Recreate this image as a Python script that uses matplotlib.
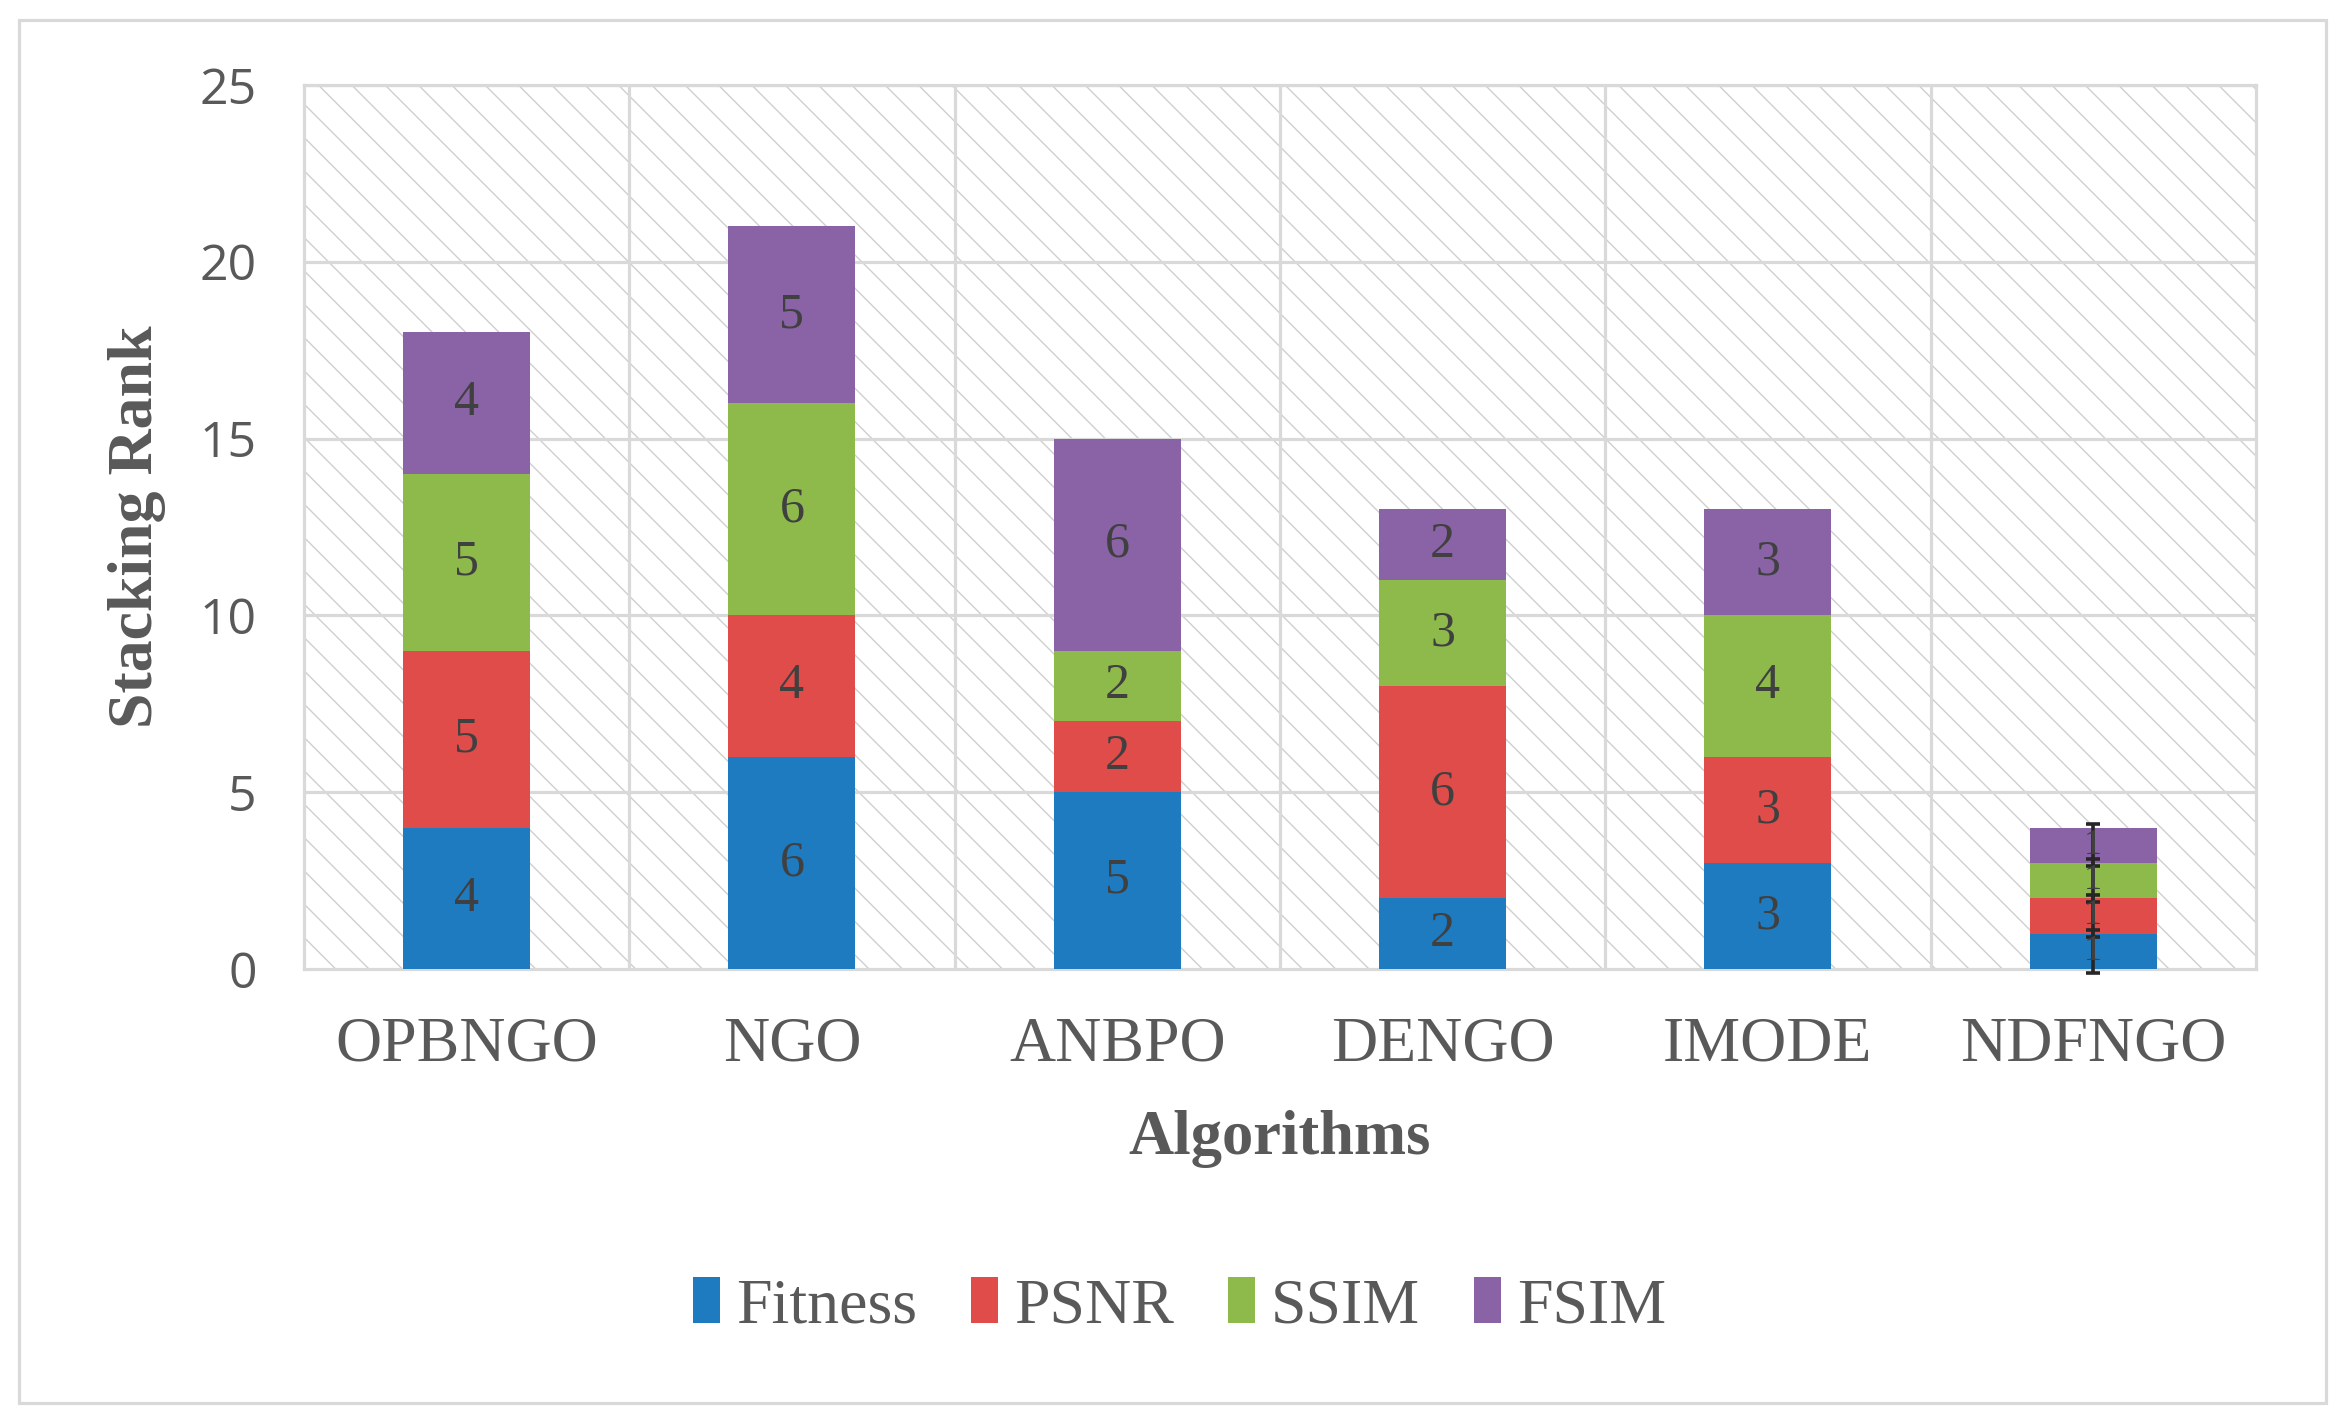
import matplotlib
matplotlib.use('Agg')
import numpy as np
import matplotlib.pyplot as plt
from matplotlib.patches import Rectangle

algorithms = ['OPBNGO', 'NGO', 'ANBPO', 'DENGO', 'IMODE', 'NDFNGO']
fitness = [4, 6, 5, 2, 3, 1]
psnr = [5, 4, 2, 6, 3, 1]
ssim = [5, 6, 2, 3, 4, 1]
fsim = [4, 5, 6, 2, 3, 1]
series_names = ['Fitness', 'PSNR', 'SSIM', 'FSIM']
series_colors = ['#1F7BC0', '#DF4C49', '#8DBA4A', '#8A62A6']

plt.rcParams['hatch.color'] = '#CFCFCF'
plt.rcParams['hatch.linewidth'] = 1.0

serif = 'Liberation Serif'
sans = 'Open Sans'
grey = '#595959'
gridc = '#D9D9D9'

fig = plt.figure(figsize=(23.45, 14.25), dpi=100)
ax = fig.add_axes([0.1296, 0.32, 0.8324, 0.6204])

# hatched background
bg = Rectangle((0, 0), 1, 1, transform=ax.transAxes, facecolor='white',
               edgecolor='#CFCFCF', hatch='\\', linewidth=0, zorder=0)
ax.add_patch(bg)

x = np.arange(len(algorithms))
width = 0.39
bottom = np.zeros(len(algorithms))
for name, vals, col in zip(series_names, [fitness, psnr, ssim, fsim], series_colors):
    vals = np.array(vals, dtype=float)
    ax.bar(x, vals, width, bottom=bottom, color=col, label=name, zorder=3)
    for xi, b, v in zip(x, bottom, vals):
        # small segments get a smaller label so the stack stays readable
        fs = 36 if v > 1 else 26
        ax.text(xi, b + v / 2, '%d' % v, ha='center', va='center',
                fontsize=fs, family=serif, color='#404040', zorder=7)
    bottom += vals

# error bars on the last stack
last = len(algorithms) - 1
seg_vals = [fitness[last], psnr[last], ssim[last], fsim[last]]
centers = np.cumsum(seg_vals) - np.array(seg_vals) / 2.0
ax.errorbar([x[last]] * len(centers), centers, yerr=0.6, fmt='none',
            ecolor='#262626', elinewidth=2.6, capsize=5, capthick=2.6, zorder=6,
            clip_on=False)

ax.set_xlim(-0.5, len(algorithms) - 0.5)
ax.set_ylim(0, 25)
ax.set_yticks(range(0, 26, 5))
for yv in range(5, 26, 5):
    ax.axhline(yv, color=gridc, lw=2.3, zorder=1)
for xv in np.arange(0.5, len(algorithms) - 0.5, 1):
    ax.axvline(xv, color=gridc, lw=2.3, zorder=1)
for s in ax.spines.values():
    s.set_color(gridc)
    s.set_linewidth(2.3)

ax.set_xticks(x)
ax.set_xticklabels(algorithms, family=serif, fontsize=46, color=grey)
ax.tick_params(axis='x', length=0, pad=34)
ax.tick_params(axis='y', length=0, pad=34, labelsize=36, labelcolor=grey)
for lab in ax.get_yticklabels():
    lab.set_family(sans)

ax.set_xlabel('Algorithms', family=serif, fontsize=45, fontweight='bold',
              color=grey, labelpad=26)
ax.set_ylabel('Stacking Rank', family=serif, fontsize=46, fontweight='bold',
              color=grey, labelpad=24)

lgd = fig.legend(loc='center', bbox_to_anchor=(0.503, 0.083), ncol=4,
                 frameon=False, prop={'family': serif, 'size': 46},
                 handlelength=0.42, handleheight=0.72, handletextpad=0.25,
                 columnspacing=0.85)
for t in lgd.get_texts():
    t.set_color(grey)

# outer frame
fig.patches.append(Rectangle((0.008, 0.0155), 0.984, 0.9705, transform=fig.transFigure,
                             fill=False, edgecolor=gridc, linewidth=2.3))

fig.savefig('out.png', dpi=100)
